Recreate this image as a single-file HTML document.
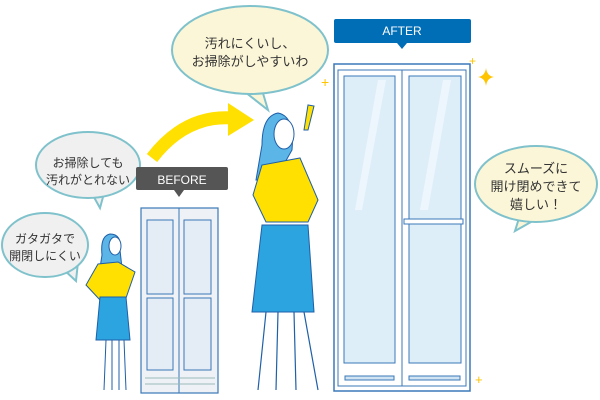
<!DOCTYPE html>
<html><head><meta charset="utf-8"><style>
body{margin:0;background:#fff}
svg{display:block}
text{font-family:"Liberation Sans","Noto Sans CJK JP",sans-serif}
</style></head><body>
<svg width="600" height="400" viewBox="0 0 600 400" xmlns="http://www.w3.org/2000/svg">
<!-- yellow arrow -->
<path d="M152 158 Q185 115 232 118" stroke="#ffe000" stroke-width="13" fill="none"/>
<polygon points="228,103 254,120 228,136" fill="#ffe000"/>

<!-- top bubble -->
<path d="M245 92 L268 110 L262 90 Z" fill="#fbf6d8" stroke="#7fc2cc" stroke-width="2"/>
<ellipse cx="250" cy="50" rx="78" ry="44" fill="#fbf6d8" stroke="#7fc2cc" stroke-width="2"/>
<path d="M246 88 L266 90" stroke="#fbf6d8" stroke-width="4"/>
<text x="250" y="48" font-size="13" text-anchor="middle" fill="#333">汚れにくいし、</text>
<text x="250" y="66" font-size="13" text-anchor="middle" fill="#333">お掃除がしやすいわ</text>

<!-- right bubble -->
<path d="M520 215 L515 231 L538 218 Z" fill="#fbf6d8" stroke="#7fc2cc" stroke-width="2"/>
<ellipse cx="536" cy="184" rx="61" ry="38" fill="#fbf6d8" stroke="#7fc2cc" stroke-width="2"/>
<text x="536" y="173" font-size="13" text-anchor="middle" fill="#333">スムーズに</text>
<text x="536" y="191" font-size="13" text-anchor="middle" fill="#333">開け閉めできて</text>
<text x="536" y="209" font-size="13" text-anchor="middle" fill="#333">嬉しい！</text>

<!-- left bubbles -->
<path d="M90 190 L100 208 L106 186 Z" fill="#f0f0f0" stroke="#7fc2cc" stroke-width="2"/>
<ellipse cx="88" cy="165" rx="52" ry="33" fill="#f0f0f0" stroke="#7fc2cc" stroke-width="2"/>
<text x="88" y="167" font-size="12" text-anchor="middle" fill="#333">お掃除しても</text>
<text x="88" y="184" font-size="12" text-anchor="middle" fill="#333">汚れがとれない</text>
<path d="M62 268 L76 281 L78 262 Z" fill="#f0f0f0" stroke="#7fc2cc" stroke-width="2"/>
<ellipse cx="45" cy="245" rx="43" ry="32" fill="#f0f0f0" stroke="#7fc2cc" stroke-width="2"/>
<text x="45" y="243" font-size="12" text-anchor="middle" fill="#333">ガタガタで</text>
<text x="45" y="260" font-size="12" text-anchor="middle" fill="#333">開閉しにくい</text>

<!-- BEFORE label -->
<rect x="136" y="167" width="92" height="23" rx="2" fill="#555"/>
<polygon points="174,190 184,190 179,197" fill="#555"/>
<text x="182" y="184" font-size="12" text-anchor="middle" fill="#fff">BEFORE</text>

<!-- BEFORE door -->
<rect x="141" y="208" width="77" height="185" fill="#eef1f5" stroke="#3b78b8" stroke-width="1.2"/>
<line x1="179" y1="208" x2="179" y2="393" stroke="#3b78b8"/>
<rect x="147" y="220" width="26" height="74" fill="#e4edf6" stroke="#3b78b8"/>
<rect x="184" y="220" width="27" height="74" fill="#e4edf6" stroke="#3b78b8"/>
<rect x="147" y="298" width="26" height="72" fill="#e4edf6" stroke="#3b78b8"/>
<rect x="184" y="298" width="27" height="72" fill="#e4edf6" stroke="#3b78b8"/>
<line x1="145" y1="378" x2="215" y2="378" stroke="#9bb" />
<line x1="145" y1="384" x2="215" y2="384" stroke="#9bb" />

<!-- small woman -->
<path d="M110 234 Q100 236 102 255 L100 268 L122 268 L120 250 Q122 234 110 234Z" fill="#5bb5e6" stroke="#1f5fa8"/>
<ellipse cx="115" cy="246" rx="6" ry="9" fill="#fff" stroke="#1f5fa8"/>
<path d="M98 264 L86 285 L100 300 L126 298 L135 272 L118 262 Z" fill="#ffe000" stroke="#1f5fa8"/>
<path d="M100 297 L96 340 L130 340 L126 297 Z" fill="#2ba4e0" stroke="#1f5fa8"/>
<path d="M106 340 L104 390 M112 340 L112 390 M119 340 L119 390 M124 340 L126 390" stroke="#1f5fa8" stroke-width="1"/>

<!-- AFTER label -->
<rect x="334" y="19" width="137" height="24" rx="2" fill="#006db7"/>
<polygon points="397,43 407,43 402,49" fill="#006db7"/>
<text x="402" y="35" font-size="12" text-anchor="middle" fill="#fff">AFTER</text>

<!-- AFTER door -->
<rect x="334" y="64" width="136" height="327" fill="#fff" stroke="#3b78b8" stroke-width="1.5"/>
<rect x="338" y="70" width="128" height="316" fill="#fff" stroke="#3b78b8" stroke-width="1"/>
<line x1="402" y1="70" x2="402" y2="386" stroke="#3b78b8"/>
<rect x="344" y="76" width="51" height="287" fill="#deeef9" stroke="#3b78b8"/>
<rect x="409" y="76" width="52" height="287" fill="#deeef9" stroke="#3b78b8"/>
<rect x="404" y="219" width="59" height="5" fill="#fff" stroke="#3b78b8"/>
<rect x="345" y="376" width="49" height="4" fill="#cfe3f3" stroke="#3b78b8"/>
<rect x="409" y="376" width="51" height="4" fill="#cfe3f3" stroke="#3b78b8"/>
<path d="M355 210 L378 80 L386 80 L362 210Z" fill="#f0f8fe" opacity=".8"/>
<path d="M420 210 L443 80 L451 80 L428 210Z" fill="#f0f8fe" opacity=".8"/>
<path d="M486 68 Q487 76 494 77 Q487 78 486 86 Q485 78 478 77 Q485 76 486 68Z" fill="#ffc400"/>
<text x="321" y="87" font-size="14" fill="#ffc400">+</text>
<text x="469" y="65" font-size="12" fill="#ffc400">+</text>
<text x="475" y="384" font-size="13" fill="#ffc400">+</text>

<!-- big woman -->
<path d="M278 113 Q262 116 262 145 L256 180 L275 180 L292 150 Q295 116 278 113Z" fill="#5bb5e6" stroke="#1f5fa8"/>
<ellipse cx="284" cy="134" rx="10" ry="15" fill="#fff" stroke="#1f5fa8"/>
<path d="M262 165 L253 195 L266 222 L308 222 L318 200 L300 158 Z" fill="#ffe000" stroke="#1f5fa8"/>
<path d="M262 225 L252 312 L314 312 L308 225 Z" fill="#2ba4e0" stroke="#1f5fa8"/>
<path d="M266 312 L258 390 M278 312 L276 390 M294 312 L296 390 M304 312 L318 390" stroke="#1f5fa8" stroke-width="1.2"/>
<path d="M308 105 L304 130 L308 130 L314 106Z" fill="#ffe000" stroke="#1f5fa8"/>
</svg>
</body></html>
